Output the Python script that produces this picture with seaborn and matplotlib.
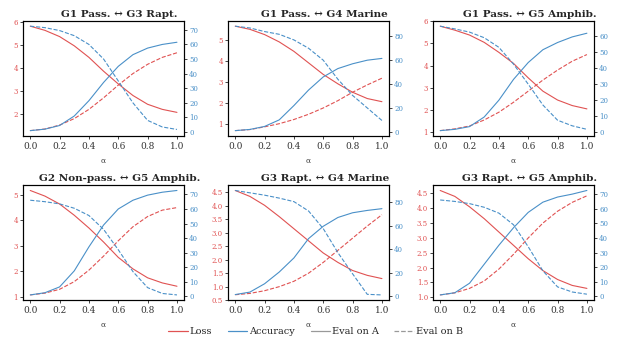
import numpy as np
import pandas as pd
import matplotlib
matplotlib.use("Agg")
import matplotlib.pyplot as plt
from matplotlib.lines import Line2D
import seaborn as sns

## data
alpha = [0.0, 0.1, 0.2, 0.3, 0.4, 0.5, 0.6, 0.7, 0.8, 0.9, 1.0]

titles = ["G1 Pass. \u2194 G3 Rapt.", "G1 Pass. \u2194 G4 Marine", "G1 Pass. \u2194 G5 Amphib.",
          "G2 Non-pass. \u2194 G5 Amphib.", "G3 Rapt. \u2194 G4 Marine", "G3 Rapt. \u2194 G5 Amphib."]

loss_a = [
    [5.8, 5.62, 5.35, 4.95, 4.45, 3.85, 3.3, 2.8, 2.42, 2.2, 2.07],
    [5.65, 5.5, 5.25, 4.9, 4.45, 3.9, 3.35, 2.9, 2.5, 2.2, 2.05],
    [5.78, 5.6, 5.38, 5.05, 4.6, 4.1, 3.45, 2.85, 2.45, 2.2, 2.05],
    [5.17, 4.95, 4.64, 4.2, 3.7, 3.15, 2.55, 2.1, 1.75, 1.55, 1.42],
    [4.57, 4.35, 4.02, 3.6, 3.15, 2.7, 2.25, 1.9, 1.6, 1.42, 1.3],
    [4.6, 4.4, 4.05, 3.65, 3.2, 2.75, 2.3, 1.9, 1.6, 1.4, 1.3],
]
loss_b = [
    [1.28, 1.35, 1.52, 1.8, 2.2, 2.7, 3.25, 3.75, 4.15, 4.45, 4.65],
    [0.67, 0.72, 0.85, 1.0, 1.2, 1.45, 1.75, 2.1, 2.5, 2.85, 3.17],
    [1.07, 1.15, 1.28, 1.55, 1.9, 2.35, 2.85, 3.35, 3.8, 4.2, 4.5],
    [1.08, 1.15, 1.3, 1.6, 2.05, 2.6, 3.2, 3.75, 4.15, 4.4, 4.5],
    [0.7, 0.75, 0.85, 1.0, 1.2, 1.5, 1.9, 2.35, 2.8, 3.25, 3.67],
    [1.08, 1.15, 1.3, 1.55, 1.95, 2.45, 3.0, 3.5, 3.9, 4.2, 4.42],
]
acc_a = [
    [1.0, 2.0, 4.5, 11.0, 21.5, 34.0, 45.0, 53.0, 57.5, 60.0, 61.5],
    [1.0, 2.0, 4.5, 10.0, 22.0, 35.0, 46.0, 53.0, 57.0, 60.0, 61.5],
    [1.0, 1.8, 3.5, 9.5, 20.0, 33.0, 43.5, 51.5, 56.0, 59.5, 61.8],
    [1.0, 2.5, 6.5, 17.5, 34.0, 49.0, 60.0, 66.0, 69.5, 71.5, 72.7],
    [1.3, 3.4, 10.5, 20.5, 32.5, 49.0, 59.5, 67.0, 71.0, 73.0, 74.5],
    [1.0, 2.5, 9.0, 22.0, 35.0, 47.0, 57.5, 64.5, 68.0, 70.0, 72.5],
]
acc_b = [
    [72.5, 71.5, 69.5, 66.0, 60.0, 50.0, 35.0, 20.0, 8.0, 3.5, 1.8],
    [88.5, 87.0, 84.0, 81.7, 77.0, 70.0, 60.0, 44.0, 30.5, 20.0, 9.5],
    [66.2, 64.5, 62.5, 59.0, 53.0, 42.5, 30.0, 17.0, 7.5, 4.0, 1.8],
    [66.0, 65.0, 63.5, 60.5, 55.5, 46.0, 32.0, 17.0, 6.0, 2.0, 1.0],
    [90.0, 88.0, 86.0, 83.5, 80.5, 72.5, 57.5, 37.0, 19.0, 1.5, 1.0],
    [66.0, 65.0, 63.5, 61.0, 57.0, 49.0, 34.0, 17.5, 6.5, 3.0, 1.5],
]

left_ticks = [
    [2, 3, 4, 5, 6], [1, 2, 3, 4, 5], [1, 2, 3, 4, 5, 6],
    [1, 2, 3, 4, 5], [0.5, 1.0, 1.5, 2.0, 2.5, 3.0, 3.5, 4.0, 4.5],
    [1.0, 1.5, 2.0, 2.5, 3.0, 3.5, 4.0, 4.5],
]
right_ticks = [
    [0, 10, 20, 30, 40, 50, 60, 70], [0, 20, 40, 60, 80], [0, 10, 20, 30, 40, 50, 60],
    [0, 10, 20, 30, 40, 50, 60, 70], [0, 20, 40, 60, 80], [0, 10, 20, 30, 40, 50, 60, 70],
]

RED = "#e05252"
BLUE = "#4a90c8"

sns.set_style("ticks")
plt.rcParams["font.family"] = ["DejaVu Serif", "DejaVu Sans"]

fig, axes = plt.subplots(2, 3, figsize=(6.19, 3.38), dpi=100)
fig.subplots_adjust(left=0.037, right=0.96, top=0.938, bottom=0.112, wspace=0.27, hspace=0.43)

for i, ax in enumerate(axes.flat):
    df = pd.DataFrame({"alpha": alpha, "loss_a": loss_a[i], "loss_b": loss_b[i],
                       "acc_a": acc_a[i], "acc_b": acc_b[i]})
    ax2 = ax.twinx()
    sns.lineplot(data=df, x="alpha", y="loss_a", ax=ax, color=RED, lw=0.8)
    sns.lineplot(data=df, x="alpha", y="loss_b", ax=ax, color=RED, lw=0.8, ls="--")
    sns.lineplot(data=df, x="alpha", y="acc_a", ax=ax2, color=BLUE, lw=0.8)
    sns.lineplot(data=df, x="alpha", y="acc_b", ax=ax2, color=BLUE, lw=0.8, ls="--")

    ax.set_title(titles[i], fontsize=7.5, fontweight="bold", x=0.6, pad=3)
    ax.set_xlabel("\u03b1", fontsize=5.5, color="#444444", labelpad=4)
    ax.set_ylabel("")
    ax2.set_ylabel("")
    ax.set_xticks([0.0, 0.2, 0.4, 0.6, 0.8, 1.0])
    ax.set_xlim(-0.05, 1.05)
    ax.set_yticks(left_ticks[i])
    ax2.set_yticks(right_ticks[i])
    ax.tick_params(axis="x", labelsize=6.5, labelcolor="#333333", length=2.5, width=0.6, pad=2)
    ax.tick_params(axis="y", labelsize=5, labelcolor=RED, length=2, width=0.6, pad=1.5)
    ax2.tick_params(axis="y", labelsize=5, labelcolor=BLUE, length=2, width=0.6, pad=1.5)
    for a in (ax, ax2):
        for s in a.spines.values():
            s.set_linewidth(0.8)
            s.set_color("black")

handles = [Line2D([], [], color=RED, lw=0.9), Line2D([], [], color=BLUE, lw=0.9),
           Line2D([], [], color="#999999", lw=0.9), Line2D([], [], color="#999999", lw=0.9, ls="--")]
fig.legend(handles, ["Loss", "Accuracy", "Eval on A", "Eval on B"], loc="lower center",
           ncol=4, frameon=False, fontsize=7, bbox_to_anchor=(0.51, -0.02),
           handlelength=2.0, handletextpad=0.2, columnspacing=1.6)

fig.savefig("out.png", dpi=100)
